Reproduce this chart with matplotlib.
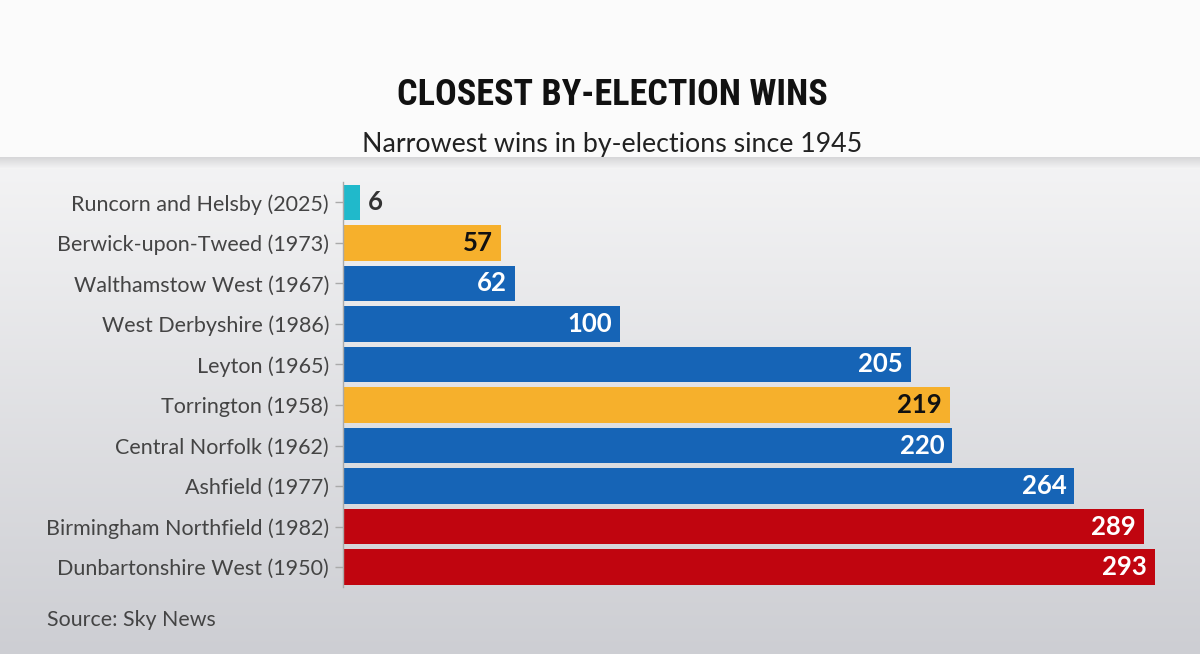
import numpy as np
import matplotlib
matplotlib.use('Agg')
from matplotlib import pyplot as plt

# data
seats = ['Runcorn and Helsby (2025)', 'Berwick-upon-Tweed (1973)',
         'Walthamstow West (1967)', 'West Derbyshire (1986)', 'Leyton (1965)',
         'Torrington (1958)', 'Central Norfolk (1962)', 'Ashfield (1977)',
         'Birmingham Northfield (1982)', 'Dunbartonshire West (1950)']
majority = [6, 57, 62, 100, 205, 219, 220, 264, 289, 293]
party = ['reform', 'lib', 'lab', 'con', 'con', 'lib', 'con', 'con', 'lab2', 'lab2']

bar_col = {'reform': '#20b9cb', 'lib': '#f6b02c', 'lab': '#1664b6',
           'con': '#1664b6', 'lab2': '#c0050f'}
txt_col = {'reform': '#333333', 'lib': '#111111', 'lab': 'white',
           'con': 'white', 'lab2': 'white'}

W, H = 1200, 654
fig = plt.figure(figsize=(W / 100, H / 100), dpi=100)

# background: white header with a soft shadow, then a grey gradient
bg = fig.add_axes([0, 0, 1, 1])
ys = np.arange(H)
top = np.array([251, 251, 251]) / 255
g0 = np.array([243, 243, 244]) / 255
g1 = np.array([205, 206, 211]) / 255
img = np.zeros((H, 1, 3))
for y in ys:
    if y < 157:
        img[y, 0] = top
    elif y < 168:
        t = (y - 157) / 11
        img[y, 0] = np.array([215, 215, 217]) / 255 * (1 - t) + g0 * t
    else:
        t = (y - 168) / (H - 168)
        img[y, 0] = g0 * (1 - t) + g1 * t
bg.imshow(img, aspect='auto', extent=(0, 1, 0, 1), zorder=-10)
bg.axis('off')

fig.text(612 / W, 1 - 105 / H, 'CLOSEST BY-ELECTION WINS',
         family=['Roboto Condensed', 'Open Sans Condensed',
                 'Liberation Sans Narrow', 'DejaVu Sans'],
         weight='bold', fontsize=26, color='#111111',
         ha='center', va='baseline')
fig.text(612 / W, 1 - 152 / H, 'Narrowest wins in by-elections since 1945',
         family='Lato', fontsize=19.3, color='#222222',
         ha='center', va='baseline')
fig.text(47 / W, 1 - 626 / H, 'Source: Sky News',
         family='Lato', fontsize=15.4, color='#444444',
         ha='left', va='baseline')

# chart area
x0, y_top, y_bot = 343, 182.1, 587.4
ax = fig.add_axes([x0 / W, 1 - y_bot / H, (W - x0) / W, (y_bot - y_top) / H])
ax.patch.set_alpha(0)
pos = np.arange(len(seats))
ax.barh(pos, majority, height=0.875,
        color=[bar_col[p] for p in party], zorder=2)
ax.set_xlim(0, (W - x0) / 2.77)
ax.set_ylim(len(seats) - 0.5, -0.5)

for i, v in enumerate(majority):
    if v < 20:
        ax.annotate(str(v), (v, i), xytext=(8, 0), textcoords='offset pixels',
                    ha='left', va='center', family='Lato', weight='bold',
                    fontsize=18.5, color=txt_col[party[i]])
    else:
        ax.annotate(str(v), (v, i), xytext=(-8, 0), textcoords='offset pixels',
                    ha='right', va='center', family='Lato', weight='bold',
                    fontsize=18.5, color=txt_col[party[i]])

ax.set_yticks(pos)
ax.set_yticklabels(seats, family='Lato', fontsize=15.5, color='#444444')
ax.tick_params(axis='y', length=6, width=1, color='#aaaaaa', pad=4)
ax.set_xticks([])
for s in ['top', 'right', 'bottom']:
    ax.spines[s].set_visible(False)
ax.spines['left'].set_color('#aaaaaa')
ax.spines['left'].set_linewidth(1)

fig.savefig('out.png', dpi=100)
